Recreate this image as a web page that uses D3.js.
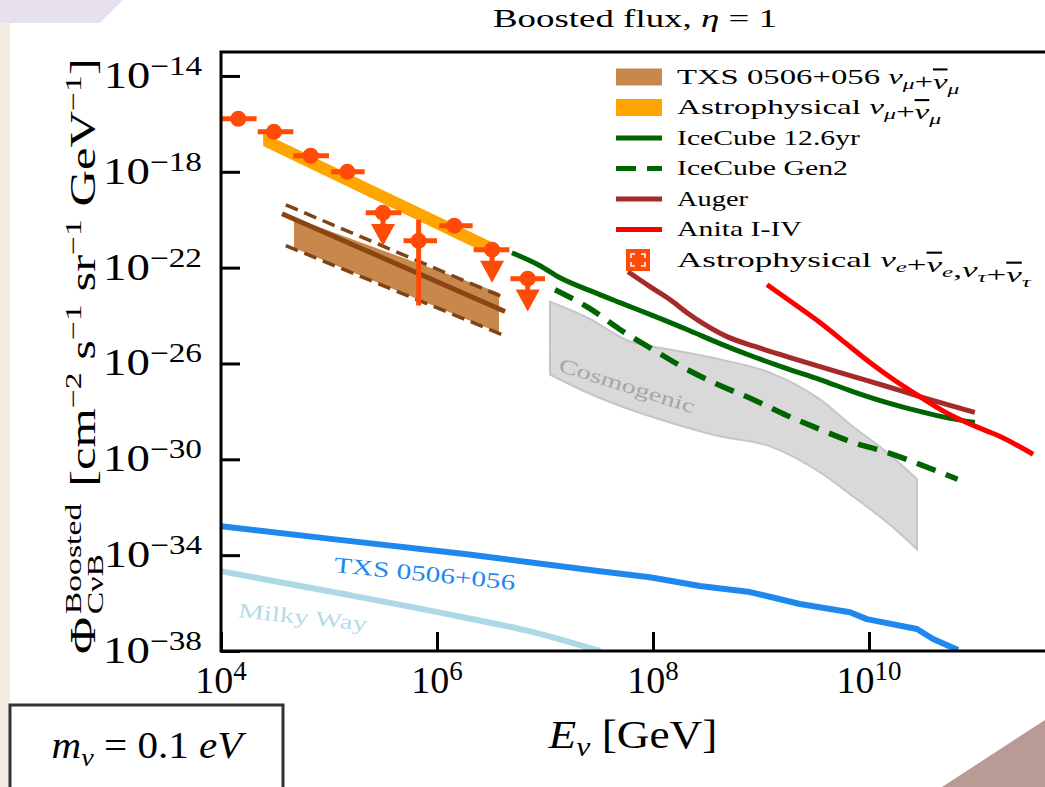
<!DOCTYPE html>
<html><head><meta charset="utf-8">
<script src="https://cdn.jsdelivr.net/npm/d3@7"></script>
<style>
body{margin:0;background:#fff;}
svg{display:block;}
text{font-family:"Liberation Serif","DejaVu Serif",serif;}
</style>
</head><body>
<svg id="c" width="1045" height="787"></svg>
<script>
// ---------- DATA (log10 of E in GeV, log10 of flux) ----------
const xTickExps = [4, 6, 8, 10];
const yTickExps = [-14, -18, -22, -26, -30, -34, -38];

// Astrophysical nu_e + nu_tau points
const astroE     = [4.16, 4.49, 4.83, 5.17, 5.50, 5.83, 6.16, 6.51, 6.84];
const astroBinLo = [4.01, 4.34, 4.67, 5.02, 5.34, 5.69, 6.02, 6.34, 6.68];
const astroBinHi = [4.33, 4.67, 5.00, 5.33, 5.67, 6.00, 6.33, 6.67, 7.00];
const astroPhi   = [-15.79, -16.33, -17.33, -18.00, -19.71, -20.88, -20.25, -21.25, -22.46];
const astroPhiHi = [null, null, null, null, null, -20.00, null, null, null];
const astroPhiLo = [null, null, null, null, -21.10, -23.58, null, -22.63, -23.83];
const astroUpLim = [false, false, false, false, true, false, false, true, true];

// Astrophysical nu_mu band
const numuE     = [4.39, 6.54];
const numuUpper = [-16.38, -21.00];
const numuLower = [-16.92, -21.58];

// TXS 0506+056 nu_mu band
const txsFillE     = [4.676, 6.574];
const txsFillUpper = [-19.93, -23.05];
const txsFillLower = [-21.18, -24.72];
const txsDashE     = [4.60, 6.60];
const txsDashUpper = [-19.38, -23.21];
const txsDashLower = [-21.08, -24.79];
const txsCenterE   = [4.565, 6.63];
const txsCenterPhi = [-19.75, -23.83];

// IceCube 12.6 yr
const icE   = [6.694, 6.954, 7.139, 7.417, 7.694, 8.00, 8.315, 8.62, 8.926, 9.24, 9.546, 9.85, 10.167, 10.47, 10.75, 10.98];
const icPhi = [-21.38, -21.92, -22.42, -22.96, -23.46, -24.00, -24.58, -25.17, -25.71, -26.21, -26.67, -27.17, -27.63, -28.00, -28.29, -28.46];

// IceCube Gen2
const g2E   = [7.093, 7.417, 7.694, 8.00, 8.315, 8.62, 8.926, 9.24, 9.546, 9.85, 10.167, 10.47, 10.82];
const g2Phi = [-22.92, -23.71, -24.58, -25.42, -26.25, -26.92, -27.50, -28.17, -28.75, -29.29, -29.71, -30.21, -30.83];

// Auger
const augerE   = [7.769, 7.972, 8.157, 8.315, 8.481, 8.685, 8.944, 9.24, 9.546, 9.85, 10.167, 10.47, 10.75, 10.98];
const augerPhi = [-22.17, -22.79, -23.33, -23.88, -24.38, -24.88, -25.29, -25.71, -26.13, -26.54, -26.96, -27.38, -27.75, -28.04];

// Anita I-IV
const anitaE   = [9.056, 9.315, 9.546, 9.778, 10.009, 10.24, 10.47, 10.71, 10.94, 11.21, 11.52];
const anitaPhi = [-22.71, -23.54, -24.29, -25.13, -25.96, -26.71, -27.38, -28.04, -28.54, -29.04, -29.79];

// Cosmogenic band
const cosmoE     = [7.046, 7.389, 7.787, 8.157, 8.62, 9.083, 9.546, 9.85, 10.167, 10.444];
const cosmoUpper = [-23.42, -24.08, -25.08, -25.42, -25.83, -26.38, -27.50, -28.63, -29.71, -30.83];
const cosmoLower = [-26.46, -27.21, -27.92, -28.46, -29.04, -29.46, -30.54, -31.54, -32.63, -33.75];

// Boosted C-nu-B fluxes
const txsBoostE   = [4.0, 5.037, 6.278, 7.509, 7.972, 8.435, 8.898, 9.361, 9.824, 9.98, 10.444, 10.593, 10.824];
const txsBoostPhi = [-32.79, -33.33, -33.96, -34.67, -34.92, -35.29, -35.54, -36.04, -36.38, -36.67, -37.08, -37.50, -37.96];
const mwE   = [4.0, 5.037, 6.185, 6.889, 7.509];
const mwPhi = [-34.67, -35.54, -36.54, -37.21, -38.0];

const legendLabels = ["TXS 0506+056", "Astrophysical", "IceCube 12.6yr", "IceCube Gen2", "Auger", "Anita I-IV", "Astrophysical"];

// ---------- CHART ----------
const svg = d3.select("#c");
const x = d3.scaleLog().domain([1e4, 1e12]).range([221, 1085]);
const y = d3.scaleLog().domain([1e-38, 1e-13]).range([651, 52]);
const X = e => x(Math.pow(10, e));
const Y = p => y(Math.pow(10, p));

// background decorations
svg.append("rect").attr("x",0).attr("y",0).attr("width",1045).attr("height",787).attr("fill","#fff");
svg.append("rect").attr("x",0).attr("y",0).attr("width",10).attr("height",787).attr("fill","#f3ece2");
svg.append("polygon").attr("points","0,0 123,0 100,23 0,23").attr("fill","#e7e0ef");
svg.append("polygon").attr("points","942,787 1045,720 1045,787").attr("fill","#b99a94");

function fitX(sel, w, ax) {
  const bb = sel.node().getBBox();
  const s = w / bb.width;
  sel.attr("transform", `translate(${ax},0) scale(${s},1) translate(${-ax},0)`);
}

svg.append("defs").append("clipPath").attr("id","pc").append("rect")
  .attr("x",221).attr("y",52).attr("width",864).attr("height",599);
const plot = svg.append("g").attr("clip-path","url(#pc)");

const line = d3.line().x(d => X(d[0])).y(d => Y(d[1]));
const smooth = d3.line().x(d => X(d[0])).y(d => Y(d[1])).curve(d3.curveMonotoneX);
const zip = (a,b) => a.map((v,i)=>[v,b[i]]);

// cosmogenic
const cosmoArea = d3.area().x((d,i) => X(cosmoE[i])).y0((d,i) => Y(cosmoLower[i])).y1((d,i) => Y(cosmoUpper[i]))
  .curve(d3.curveMonotoneX);
plot.append("path").attr("d", cosmoArea(cosmoE))
  .attr("fill","#d9d9d9").attr("stroke","#c6c6c6").attr("stroke-width",2);

// Milky Way & TXS boosted
plot.append("path").attr("d", smooth(zip(mwE, mwPhi))).attr("fill","none")
  .attr("stroke","#add8e6").attr("stroke-width",6);
plot.append("path").attr("d", line(zip(txsBoostE, txsBoostPhi))).attr("fill","none")
  .attr("stroke","#1f88ef").attr("stroke-width",6).attr("stroke-linejoin","round");

// TXS band
const txsPoly = zip(txsFillE, txsFillUpper).concat(zip(txsFillE, txsFillLower).reverse());
plot.append("path").attr("d", line(txsPoly)+"Z").attr("fill","#c8874b");
plot.append("path").attr("d", line(zip(txsDashE, txsDashUpper))).attr("fill","none")
  .attr("stroke","#7c4519").attr("stroke-width",3.5).attr("stroke-dasharray","13,7");
plot.append("path").attr("d", line(zip(txsDashE, txsDashLower))).attr("fill","none")
  .attr("stroke","#7c4519").attr("stroke-width",3.5).attr("stroke-dasharray","13,7");
plot.append("path").attr("d", line(zip(txsCenterE, txsCenterPhi))).attr("fill","none")
  .attr("stroke","#8b4513").attr("stroke-width",5);

// numu band
const numuPoly = zip(numuE, numuUpper).concat(zip(numuE, numuLower).reverse());
plot.append("path").attr("d", line(numuPoly)+"Z").attr("fill","#ffa500");

// experiments
plot.append("path").attr("d", smooth(zip(g2E, g2Phi))).attr("fill","none")
  .attr("stroke","#006400").attr("stroke-width",5.5).attr("stroke-dasharray","20,11");
plot.append("path").attr("d", smooth(zip(icE, icPhi))).attr("fill","none")
  .attr("stroke","#006400").attr("stroke-width",5);
plot.append("path").attr("d", smooth(zip(augerE, augerPhi))).attr("fill","none")
  .attr("stroke","#a52a2a").attr("stroke-width",5);
plot.append("path").attr("d", smooth(zip(anitaE, anitaPhi))).attr("fill","none")
  .attr("stroke","#ff0000").attr("stroke-width",5);

// astro points
const pc = "#ff4a08";
astroE.forEach((e,i) => {
  const g = plot.append("g");
  g.append("line").attr("x1",X(astroBinLo[i])).attr("x2",X(astroBinHi[i]))
    .attr("y1",Y(astroPhi[i])).attr("y2",Y(astroPhi[i])).attr("stroke",pc).attr("stroke-width",5);
  if (astroUpLim[i]) {
    const yt = Y(astroPhiLo[i]);
    g.append("line").attr("x1",X(e)).attr("x2",X(e)).attr("y1",Y(astroPhi[i])).attr("y2",yt-20)
      .attr("stroke",pc).attr("stroke-width",5);
    g.append("path").attr("d",`M${X(e)-12},${yt-22}L${X(e)+12},${yt-22}L${X(e)},${yt}Z`).attr("fill",pc);
  } else if (astroPhiLo[i] !== null) {
    g.append("line").attr("x1",X(e)).attr("x2",X(e)).attr("y1",Y(astroPhiHi[i])).attr("y2",Y(astroPhiLo[i]))
      .attr("stroke",pc).attr("stroke-width",5);
  }
  g.append("circle").attr("cx",X(e)).attr("cy",Y(astroPhi[i])).attr("r",8).attr("fill",pc);
});

// in-plot labels
function rotLabel(txt, cx, cy, ang, fs, col, w) {
  const g = svg.append("g").attr("transform",`translate(${cx},${cy}) rotate(${ang})`);
  const t = g.append("text").attr("x",0).attr("y",0).attr("text-anchor","middle")
    .attr("font-size",fs).attr("fill",col).text(txt);
  fitX(t, w, 0);
}
rotLabel("TXS 0506+056", 424, 581, 5.6, 22, "#1f88ef", 182);
rotLabel("Milky Way", 302, 624, 6, 21, "#b4dbe8", 130);
rotLabel("Cosmogenic", 625, 392, 17.5, 20, "#a6a6a6", 142);

// axes
const xAxis = d3.axisBottom(x).tickValues(xTickExps.map(e=>Math.pow(10,e)))
  .tickSizeInner(-19).tickSizeOuter(0).tickFormat("");
const gx = svg.append("g").attr("transform","translate(0,651)").call(xAxis);
gx.select(".domain").remove();
gx.selectAll(".tick line").attr("stroke","#000").attr("stroke-width",3);
const yAxis = d3.axisLeft(y).tickValues(yTickExps.map(e=>Math.pow(10,e)))
  .tickSizeInner(-19).tickSizeOuter(0).tickFormat("");
const gy = svg.append("g").attr("transform","translate(221,0)").call(yAxis);
gy.select(".domain").remove();
gy.selectAll(".tick line").attr("stroke","#000").attr("stroke-width",3);

svg.append("rect").attr("x",221).attr("y",52).attr("width",864).attr("height",599)
  .attr("fill","none").attr("stroke","#000").attr("stroke-width",3);

// tick labels
xTickExps.forEach(e => {
  const t = svg.append("text").attr("x", x(Math.pow(10,e))).attr("y",693)
    .attr("text-anchor","middle").attr("font-size",38);
  t.append("tspan").text("10");
  t.append("tspan").attr("font-size",27).attr("dy",-13).text(String(e));
});
yTickExps.forEach(e => {
  const t = svg.append("text").attr("x", 202).attr("y", y(Math.pow(10,e)) + 12)
    .attr("text-anchor","end").attr("font-size",38);
  t.append("tspan").text("10");
  t.append("tspan").attr("font-size",27).attr("dy",-13).text("\u2212" + Math.abs(e));
  fitX(t, 99, 202);
});

// title
const tt = svg.append("text").attr("x",635).attr("y",27).attr("text-anchor","middle").attr("font-size",26);
tt.append("tspan").text("Boosted flux, ");
tt.append("tspan").attr("font-style","italic").text("\u03b7");
tt.append("tspan").text(" = 1");
fitX(tt, 284, 635);

// x label
const xl = svg.append("text").attr("x",633).attr("y",748).attr("text-anchor","middle").attr("font-size",40);
xl.append("tspan").attr("font-style","italic").text("E");
xl.append("tspan").attr("font-style","italic").attr("font-size",28).attr("dy",8).text("\u03bd");
xl.append("tspan").attr("dy",-8).text(" [GeV]");
fitX(xl, 170, 633);

// y label
const yg = svg.append("g");
const yin = yg.append("g");
const phi = yin.append("text").attr("x",0).attr("y",0).attr("font-size",36).text("\u03a6");
const w1 = phi.node().getBBox().width;
const sup = yin.append("text").attr("x",w1+2).attr("y",-14).attr("font-size",24).text("Boosted");
const sub = yin.append("text").attr("x",w1+2).attr("y",8).attr("font-size",24).text("C\u03bdB");
const w2 = Math.max(sup.node().getBBox().width, sub.node().getBBox().width);
const rest = yin.append("text").attr("x",w1+w2+14).attr("y",0).attr("font-size",36);
rest.append("tspan").text("[cm");
rest.append("tspan").attr("font-size",24).attr("dy",-14).text("\u22122");
rest.append("tspan").attr("dy",14).text(" s");
rest.append("tspan").attr("font-size",24).attr("dy",-14).text("\u22121");
rest.append("tspan").attr("dy",14).text(" sr");
rest.append("tspan").attr("font-size",24).attr("dy",-14).text("\u22121");
rest.append("tspan").attr("dy",14).text(" GeV");
rest.append("tspan").attr("font-size",24).attr("dy",-14).text("\u22121");
rest.append("tspan").attr("dy",14).text("]");
const ybb = yin.node().getBBox();
const ys = 596 / ybb.width;
yin.attr("transform",`scale(${ys},1) translate(${-(ybb.x + ybb.width/2)},0)`);
yg.attr("transform","translate(95,356) rotate(-90)");

// legend
const lx0 = 616, lx1 = 662, ltx = 677, ly0 = 77, lstep = 30.5;
const lg = svg.append("g");
const lWidths = [283, 265, 183, 171, 71, 125, 355];
legendLabels.forEach((lab, i) => {
  const cy = ly0 + i*lstep;
  if (i === 0) lg.append("rect").attr("x",lx0).attr("y",cy-8.5).attr("width",lx1-lx0).attr("height",17).attr("fill","#c8874b");
  if (i === 1) lg.append("rect").attr("x",lx0).attr("y",cy-8.5).attr("width",lx1-lx0).attr("height",17).attr("fill","#ffa500");
  if (i === 2) lg.append("line").attr("x1",lx0).attr("x2",lx1).attr("y1",cy).attr("y2",cy).attr("stroke","#006400").attr("stroke-width",5);
  if (i === 3) lg.append("line").attr("x1",lx0).attr("x2",lx1).attr("y1",cy).attr("y2",cy).attr("stroke","#006400").attr("stroke-width",5).attr("stroke-dasharray","20,11");
  if (i === 4) lg.append("line").attr("x1",lx0).attr("x2",lx1).attr("y1",cy).attr("y2",cy).attr("stroke","#a52a2a").attr("stroke-width",5);
  if (i === 5) lg.append("line").attr("x1",lx0).attr("x2",lx1).attr("y1",cy).attr("y2",cy).attr("stroke","#ff0000").attr("stroke-width",5);
  if (i === 6) {
    const cx = (lx0+lx1)/2 - 1;
    lg.append("rect").attr("x",cx-12).attr("y",cy-11).attr("width",24).attr("height",22).attr("fill",pc);
    [[-1,-1],[1,-1],[-1,1],[1,1]].forEach(([sx,sy]) => {
      const px = cx + sx*7, py = cy + sy*6;
      lg.append("path").attr("d",`M${px},${py-sy*4}L${px},${py}L${px-sx*4},${py}`)
        .attr("fill","none").attr("stroke","#fff").attr("stroke-width",1.6);
    });
  }
  const t = lg.append("text").attr("x",ltx).attr("y",cy+7).attr("font-size",21);
  t.append("tspan").text(lab + " ");
  const addNu = (s, bar) => {
    const n = t.append("tspan").attr("font-style","italic").text("\u03bd");
    if (bar) n.style("text-decoration","overline");
    t.append("tspan").attr("font-style","italic").attr("font-size",15).attr("dy",5).text(s);
    t.append("tspan").attr("dy",-5).text("");
  };
  if (i === 0 || i === 1) {
    addNu("\u03bc", false); t.append("tspan").text("+"); addNu("\u03bc", true);
  }
  if (i === 6) {
    addNu("e", false); t.append("tspan").text("+"); addNu("e", true);
    t.append("tspan").text(",");
    addNu("\u03c4", false); t.append("tspan").text("+"); addNu("\u03c4", true);
  }
  fitX(t, lWidths[i], ltx);
});

// mass box
svg.append("rect").attr("x",10).attr("y",705).attr("width",273).attr("height",90)
  .attr("fill","#fff").attr("stroke","#333").attr("stroke-width",3);
const mt = svg.append("text").attr("x",147).attr("y",758).attr("text-anchor","middle").attr("font-size",38);
mt.append("tspan").attr("font-style","italic").text("m");
mt.append("tspan").attr("font-style","italic").attr("font-size",26).attr("dy",8).text("\u03bd");
mt.append("tspan").attr("dy",-8).text(" = 0.1 ");
mt.append("tspan").attr("font-style","italic").text("eV");
fitX(mt, 195, 147);
</script>
</body></html>
